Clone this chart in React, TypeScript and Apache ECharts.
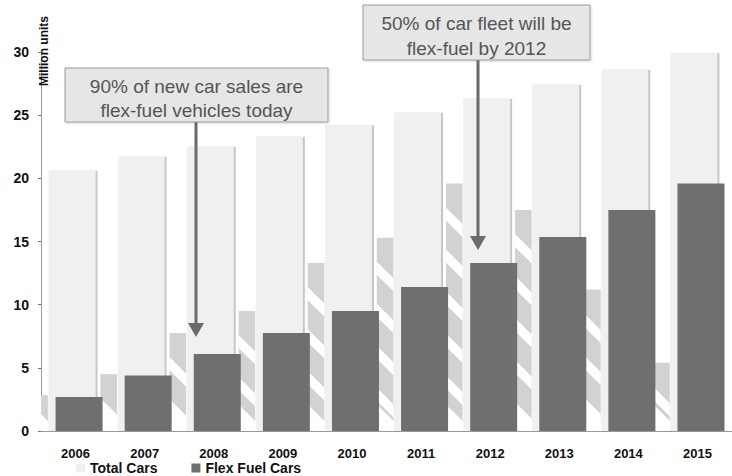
import React, { useEffect, useRef } from "react";
import * as echarts from "echarts";

const years = ["2006", "2007", "2008", "2009", "2010", "2011", "2012", "2013", "2014", "2015"];
const totalCars = [20.6, 21.7, 22.5, 23.3, 24.2, 25.2, 26.3, 27.4, 28.6, 29.9];
const flexCars = [2.7, 4.4, 6.1, 7.75, 9.5, 11.4, 13.3, 15.35, 17.5, 19.6];
// heights (in million units) where the decorative reflection stripes start in each gap
const reflectionTops = [2.85, 4.5, 7.75, 9.5, 13.3, 15.3, 19.6, 17.5, 11.2, 5.4];
const yTicks = { min: 0, max: 30, interval: 5 };
const note1 = ["90% of new car sales are", "flex-fuel vehicles today"];
const note2 = ["50% of car fleet will be", "flex-fuel by 2012"];

const FONT = "'Liberation Sans', Arial, sans-serif";

export default function App() {
  const ref = useRef<HTMLDivElement>(null);
  useEffect(() => {
    document.body.style.margin = "0";
    const chart = echarts.init(ref.current!, null, { renderer: "svg" });

    const arrow = (x: number, y0: number, y1: number) => [
      {
        type: "line",
        shape: { x1: x, y1: y0, x2: x, y2: y1 - 12 },
        style: { stroke: "#6a6a6a", lineWidth: 3 },
        z: 20,
      },
      {
        type: "polygon",
        shape: { points: [[x - 8, y1 - 14], [x + 8, y1 - 14], [x, y1]] },
        style: { fill: "#6a6a6a" },
        z: 20,
      },
    ];

    const box = (x: number, y: number, w: number, h: number, lines: string[], ly: number[]) => [
      {
        type: "rect",
        shape: { x, y, width: w, height: h },
        style: {
          fill: "#e6e6e6",
          stroke: "#9c9c9c",
          lineWidth: 1,
          shadowColor: "rgba(0,0,0,0.15)",
          shadowBlur: 2,
          shadowOffsetX: 1,
          shadowOffsetY: 1,
        },
        z: 21,
      },
      ...lines.map((t, i) => ({
        type: "text",
        x: x + w / 2,
        y: ly[i],
        style: {
          text: t,
          fill: "#555",
          font: `19px ${FONT}`,
          textAlign: "center",
          textVerticalAlign: "middle",
        },
        z: 22,
      })),
    ];

    chart.setOption({
      animation: false,
      backgroundColor: "#fff",
      textStyle: { fontFamily: FONT },
      grid: { left: 41, top: 52, width: 705, height: 379 },
      legend: {
        left: 76,
        top: 461,
        padding: 0,
        itemWidth: 9,
        itemHeight: 9,
        itemGap: 34,
        icon: "rect",
        textStyle: {
          fontWeight: "bold",
          fontSize: 14,
          lineHeight: 14,
          color: "#111",
          fontFamily: FONT,
        },
        data: ["Total Cars", "Flex Fuel Cars"],
      },
      xAxis: {
        type: "category",
        data: years,
        axisLine: { lineStyle: { color: "#999" } },
        axisTick: { length: 3, lineStyle: { color: "#777" } },
        axisLabel: { fontWeight: "bold", fontSize: 13, color: "#111", margin: 16 },
      },
      yAxis: {
        type: "value",
        min: yTicks.min,
        max: yTicks.max,
        interval: yTicks.interval,
        splitLine: { show: false },
        axisLine: { show: true, lineStyle: { color: "#999" } },
        axisTick: { show: true, length: 3, lineStyle: { color: "#777" } },
        axisLabel: { fontWeight: "bold", fontSize: 14, color: "#111", margin: 12 },
      },
      series: [
        {
          type: "custom",
          name: "reflection",
          silent: true,
          clip: true,
          z: 1,
          encode: { x: 0, y: 1 },
          data: reflectionTops.map((v, i) => [i, v]),
          renderItem: (params: any, api: any) => {
            const k = api.value(0);
            const top = api.coord([k, api.value(1)]);
            const base = api.coord([k, 0]);
            const bw = api.size([1, 0])[0];
            const gx1 = top[0] - 0.4 * bw;
            const gx0 = top[0] - 0.64 * bw;
            const w = gx1 - gx0;
            const bottom = base[1] - 10;
            const children: any[] = [
              {
                type: "rect",
                shape: { x: gx0, y: top[1], width: w, height: Math.max(0, bottom - top[1]) },
                style: { fill: "#d2d2d2" },
              },
            ];
            for (let y = top[1] + 24; y < bottom; y += 42) {
              children.push({
                type: "polygon",
                shape: { points: [[gx0, y], [gx1, y + w], [gx1, y + w + 13], [gx0, y + 13]] },
                style: { fill: "#ffffff" },
              });
            }
            children.push({
              type: "polygon",
              shape: { points: [[gx0, bottom - w], [gx1, bottom], [gx1, base[1]], [gx0, base[1]]] },
              style: { fill: "#ffffff" },
            });
            return { type: "group", children };
          },
        },
        {
          type: "bar",
          name: "Total Cars",
          data: totalCars,
          barWidth: 47,
          z: 2,
          itemStyle: {
            color: "#f0f0f0",
            shadowColor: "#c6c6c6",
            shadowOffsetX: 2,
            shadowBlur: 0,
          },
        },
        {
          type: "bar",
          name: "Flex Fuel Cars",
          data: flexCars,
          barWidth: 47,
          barGap: "-85%",
          z: 3,
          itemStyle: { color: "#6f6f6f" },
        },
      ],
      graphic: [
        {
          type: "text",
          x: 44,
          y: 51,
          rotation: Math.PI / 2,
          style: {
            text: "Million units",
            fill: "#111",
            font: `bold 12px ${FONT}`,
            textAlign: "center",
            textVerticalAlign: "middle",
          },
          z: 20,
        },
        ...arrow(196, 122, 337),
        ...arrow(478, 60, 250),
        ...box(65, 68, 263, 54, note1, [86, 110]),
        ...box(363, 5, 227, 55, note2, [23, 48]),
      ],
    });
    return () => chart.dispose();
  }, []);
  return <div ref={ref} style={{ width: 732, height: 476 }} />;
}
